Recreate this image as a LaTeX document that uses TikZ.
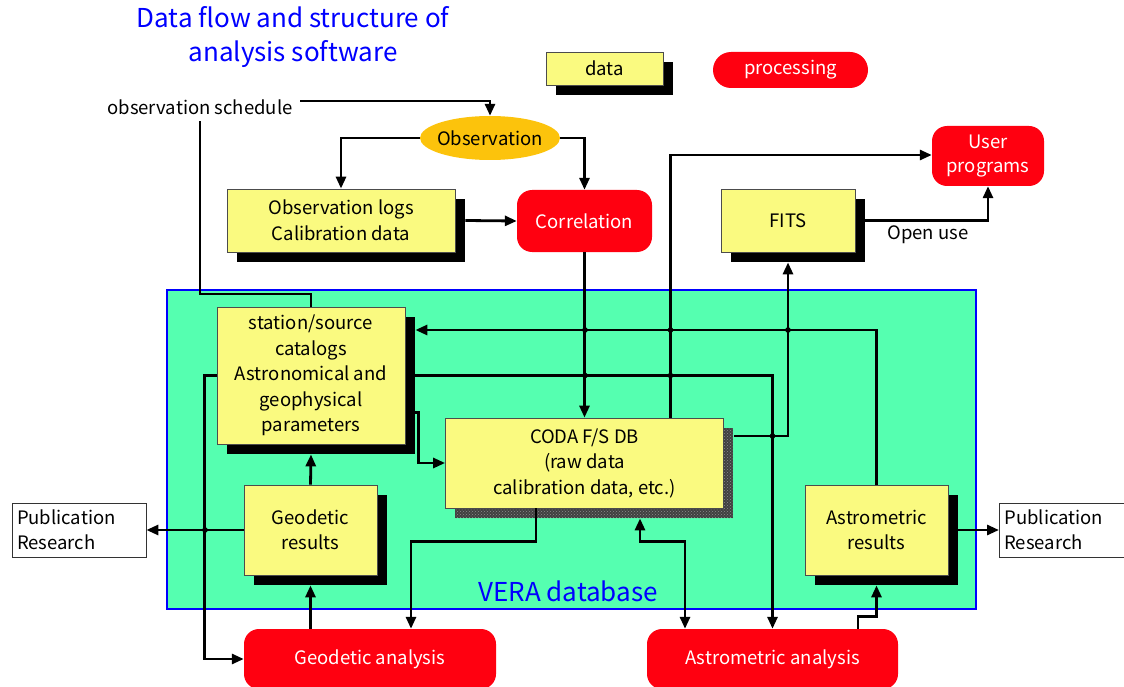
\documentclass[tikz,border=0pt]{standalone}
\usepackage{fontspec}
\setmainfont{Noto Sans CJK JP}
\usetikzlibrary{calc,arrows.meta,positioning,shapes.geometric,shadows,patterns}

\definecolor{datayellow}{RGB}{250,250,128}
\definecolor{procred}{RGB}{255,0,16}
\definecolor{obsorange}{RGB}{252,195,12}
\definecolor{veragreen}{RGB}{85,255,176}
\definecolor{titleblue}{RGB}{0,0,255}

\tikzset{
  databox/.style={draw=black!70, line width=0.8pt, fill=datayellow, align=center,
    inner sep=2pt, general shadow={fill=black, shadow xshift=10pt, shadow yshift=-10pt}},
  procbox/.style={fill=procred, text=white, rounded corners=15pt, align=center, inner sep=2pt},
  pubbox/.style={draw=black!80, line width=0.8pt, fill=white, align=left, inner sep=5pt,
    minimum width=134pt, minimum height=54pt, text width=124pt},
  flow/.style={line width=2.8pt, -{Triangle[length=12pt,width=10pt]}},
  flowboth/.style={line width=2.8pt, {Triangle[length=12pt,width=10pt]}-{Triangle[length=12pt,width=10pt]}},
  plain/.style={line width=2.8pt},
  hop/.style={fill=black}
}

\begin{document}
\begin{tikzpicture}[x=1pt, y=-1pt, font=\fontsize{18.5}{25.5}\selectfont]
  \useasboundingbox (0,0) rectangle (1124,687);

  % Titel en legenda
  \node[text=titleblue, align=center, font=\fontsize{26}{34}\selectfont] (title) at (293,37)
    {Data flow and structure of\\analysis software};
  \node[databox, minimum width=117pt, minimum height=33pt] (legdata) at (604.5,68.5) {data};
  \node[procbox, rounded corners=18pt, minimum width=155pt, minimum height=36pt] (legproc) at (790.5,70) {processing};

  % Waarneming en correlatie
  \node (sched) at (200,107) {observation schedule};
  \node[ellipse, fill=obsorange, minimum width=140pt, minimum height=44pt, inner sep=0pt] (obs) at (490,138) {};
  \node (obstext) at (obs.center) {Observation};
  \node[databox, minimum width=228pt, minimum height=63pt] (obslogs) at (341,220.5) {Observation logs\\Calibration data};
  \node[procbox, minimum width=135pt, minimum height=62pt] (corr) at (584.5,221) {Correlation};
  \node[databox, minimum width=134pt, minimum height=63pt] (fits) at (788,220.5) {FITS};
  \node[procbox, minimum width=112pt, minimum height=60pt] (user) at (988,156) {User\\[-2pt]programs};
  \node (openuse) at (928,235) {Open use};

  % VERA database
  \draw[titleblue, line width=2.5pt, fill=veragreen] (167,290) rectangle (976,609);
  \node[text=titleblue, font=\fontsize{26}{30}\selectfont] (veralabel) at (568,591) {VERA database};

  \node[databox, minimum width=188pt, minimum height=137pt] (station) at (311,375.5)
    {station/source\\catalogs\\Astronomical and\\geophysical\\parameters};
  % CODA: schaduw met patroon
  \fill[black!75] (455,428) rectangle (733,518);
  \fill[pattern=crosshatch dots, pattern color=black!45] (455,428) rectangle (733,518);
  \node[draw=black!70, line width=0.8pt, fill=datayellow, align=center, inner sep=2pt,
    minimum width=278pt, minimum height=90pt] (coda) at (584.5,463)
    {CODA F/S DB\\(raw data\\calibration data, etc.)};
  \node[databox, minimum width=133pt, minimum height=90pt] (geores) at (310.5,530) {Geodetic\\results};
  \node[databox, minimum width=143pt, minimum height=90pt] (astres) at (876.5,530) {Astrometric\\results};

  % Publicatie
  \node[pubbox] (publeft) at (79,530) {Publication\\Research};
  \node[pubbox, anchor=west] (pubright) at (999,530) {Publication\\Research};

  % Analyse
  \node[procbox, minimum width=252pt, minimum height=60pt] (geoana) at (370,659) {Geodetic analysis};
  \node[procbox, minimum width=251pt, minimum height=60pt] (astana) at (772.5,659) {Astrometric analysis};

  % Verbindingen bovenaan
  \coordinate (schedturn) at (311,294);
  \draw[flow] ([xshift=4pt, yshift=6pt]sched.east) -| (obs.north);
  \draw[plain] ([yshift=-3pt]sched.south) |- (schedturn) -- (station.north);
  \draw[flow] (obs.west) -| (obslogs.north);
  \draw[flow] (obs.east) -| (corr.north);
  \draw[flow] ([xshift=10pt]obslogs.east) -- (corr.west);
  \draw[flow] (corr.south) -- (coda.north);
  \draw[flow] ([xshift=86pt]coda.north) |- ([yshift=1pt]user.west);
  \draw[flow] ([xshift=10pt]fits.east) -| (user.south);
  \draw[flow] ([xshift=10pt, yshift=27pt]coda.east) -| ([yshift=-10pt]fits.south);

  % Verbindingen binnen de database
  \draw[flow] (astres.north) |- ([xshift=10pt, yshift=45.5pt]station.east);
  \draw[flow] ([xshift=10pt]station.east) -| (astana.north);
  \draw[flow] ([xshift=10pt, yshift=-37pt]station.east) -- ++(3,0) |- (coda.west);
  \draw[flow] (geores.north) -- ([yshift=-10pt]station.south);
  \draw[flow] (geoana.north -| geores.south) -- ([yshift=-10pt]geores.south);
  \draw[flow] (station.west) -- ++(-12,0) |- (geoana.west);
  \draw[flow] (geores.west) -- (publeft.east);
  \draw[flow] ([xshift=-48.5pt]coda.south) -- ++(0,33) -| ([xshift=41pt]geoana.north);
  \draw[flowboth] ([xshift=55.5pt, yshift=-10pt]coda.south) -- ++(0,23) -| ([xshift=-87.5pt]astana.north);
  \draw[flow] ([xshift=85.5pt]astana.north) -- ++(0,-12) -| ([yshift=-10pt]astres.south);
  \draw[flow] ([xshift=10pt]astres.east) -- (pubright.west);

  % Kruisingen
  \foreach \hx/\hy in {585/330, 670.5/330, 788/330, 585/375.5, 670.5/375.5, 772.5/436, 205/530}
    \fill[hop] (\hx,\hy) circle (2.8pt);
\end{tikzpicture}
\end{document}
